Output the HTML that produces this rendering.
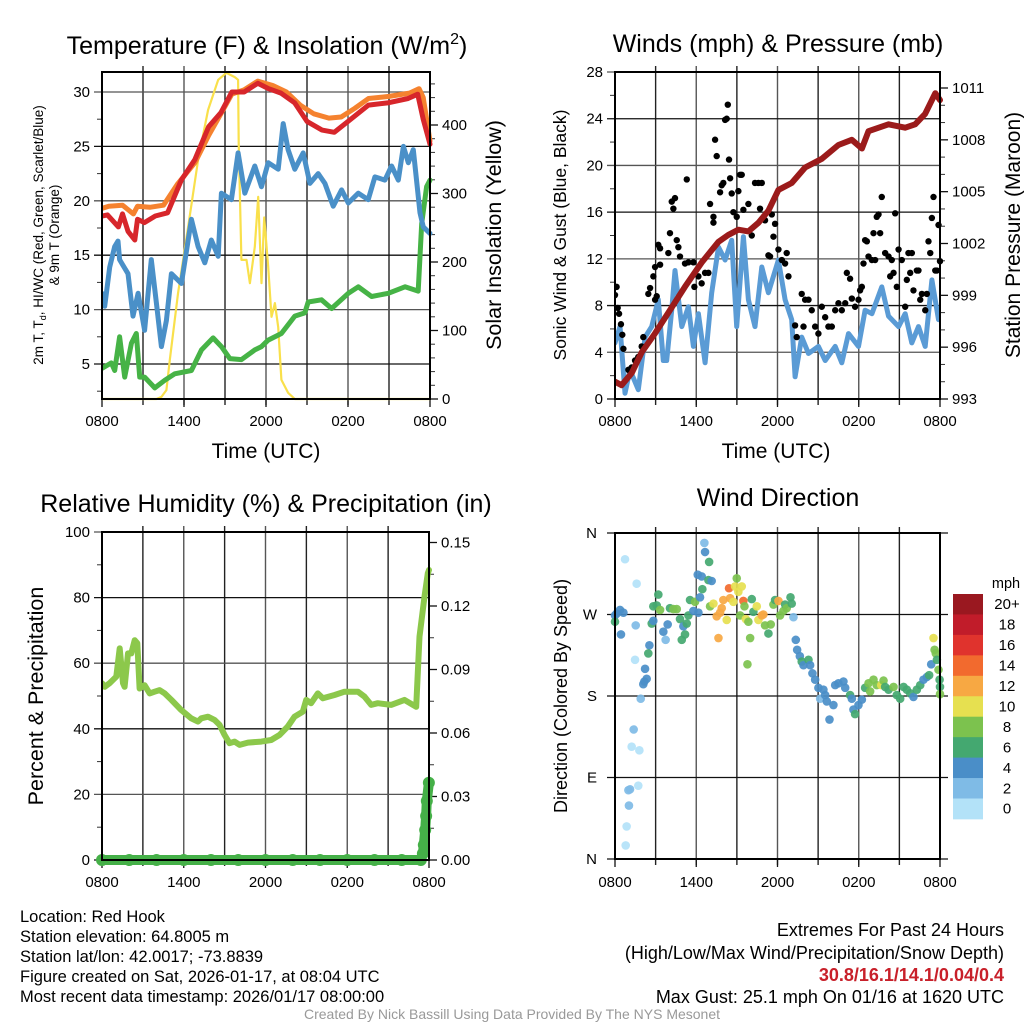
<!DOCTYPE html>
<html><head><meta charset="utf-8">
<style>
html,body{margin:0;padding:0;background:#fff;}
body{width:1024px;height:1024px;overflow:hidden;font-family:"Liberation Sans",Arial,sans-serif;}
svg text{font-family:"Liberation Sans",Arial,sans-serif;}
</style></head>
<body>
<svg id="chart" width="1024" height="1024" viewBox="0 0 1024 1024" xmlns="http://www.w3.org/2000/svg">
<rect x="0" y="0" width="1024" height="1024" fill="#fff"/>
<g id="titles" font-size="25" fill="#000" text-anchor="middle">
<text x="267" y="54">Temperature (F) &amp; Insolation (W/m<tspan dy="-10" font-size="16">2</tspan><tspan dy="10">)</tspan></text>
<text x="778" y="52">Winds (mph) &amp; Pressure (mb)</text>
<text x="266" y="512">Relative Humidity (%) &amp; Precipitation (in)</text>
<text x="778" y="506">Wind Direction</text>
</g>
<g fill="#000" text-anchor="middle">
<text x="266" y="458" font-size="21">Time (UTC)</text>
<text x="776" y="458" font-size="21">Time (UTC)</text>
<text transform="translate(43,235) rotate(-90)" font-size="13.5">2m T, T<tspan font-size="9" dy="3">d</tspan><tspan dy="-3">, HI/WC (Red, Green, Scarlet/Blue)</tspan></text>
<text transform="translate(59,235) rotate(-90)" font-size="13.5">&amp; 9m T (Orange)</text>
<text transform="translate(501,235) rotate(-90)" font-size="21.5">Solar Insolation (Yellow)</text>
<text transform="translate(566,235) rotate(-90)" font-size="17.5">Sonic Wind &amp; Gust (Blue, Black)</text>
<text transform="translate(1020,235) rotate(-90)" font-size="21">Station Pressure (Maroon)</text>
<text transform="translate(43,696) rotate(-90)" font-size="21.5">Percent &amp; Precipitation</text>
<text transform="translate(567,696) rotate(-90)" font-size="18">Direction (Colored By Speed)</text>
</g>
<g font-size="16.5" fill="#000">
<text x="20" y="922">Location: Red Hook</text>
<text x="20" y="942">Station elevation: 64.8005 m</text>
<text x="20" y="962">Station lat/lon: 42.0017; -73.8839</text>
<text x="20" y="982">Figure created on Sat, 2026-01-17, at 08:04 UTC</text>
<text x="20" y="1002">Most recent data timestamp: 2026/01/17 08:00:00</text>
</g>
<g font-size="18" fill="#000" text-anchor="end">
<text x="1004" y="936">Extremes For Past 24 Hours</text>
<text x="1004" y="959">(High/Low/Max Wind/Precipitation/Snow Depth)</text>
<text x="1004" y="981" fill="#c8202a" font-weight="bold">30.8/16.1/14.1/0.04/0.4</text>
<text x="1004" y="1003">Max Gust: 25.1 mph On 01/16 at 1620 UTC</text>
</g>
<text x="512" y="1019" font-size="14" fill="#999" text-anchor="middle">Created By Nick Bassill Using Data Provided By The NYS Mesonet</text>
</svg>
<script>
// ---------- data (hours since 0800 UTC) ----------
const xTickLabels = ["0800","1400","2000","0200","0800"];
const tempTicks = [5,10,15,20,25,30];
const solarTicks = [0,100,200,300,400];
const windTicks = [0,4,8,12,16,20,24,28];
const presTicks = [993,996,999,1002,1005,1008,1011];
const rhTicks = [0,20,40,60,80,100];
const precipTicks = ["0.00","0.03","0.06","0.09","0.12","0.15"];
const dirLabels = ["N","W","S","E","N"];
const dirTickDeg = [360,270,180,90,0];
const speedBins = ["20+","18","16","14","12","10","8","6","4","2","0"];
const speedColors = ["#9a1820","#c11c2a","#e0332d","#f26a2e","#f7a843","#e6e050","#7cc24e","#44a870","#4a8ec8","#7fbbe6","#b3e2f8"];

const temp2m = [[0,18.6],[0.4,18.7],[1.2,17.6],[1.5,18.8],[1.9,17.2],[2.4,16.4],[2.6,18.3],[3.1,18.0],[3.9,18.6],[4.8,18.9],[5.8,21.9],[6.8,23.8],[7.8,26.8],[8.7,28.1],[9.5,30.0],[10.4,30.0],[11.4,30.8],[12.2,30.3],[13.1,29.9],[14.1,29.0],[15.0,27.3],[16.1,26.5],[17.0,26.3],[18.0,27.3],[19.5,28.8],[20.9,29.0],[22.4,29.4],[23.1,29.8],[23.5,27.5],[24,25.2]];
const temp9m = [[0,19.3],[0.5,19.5],[1.5,19.6],[2.3,18.8],[2.6,19.5],[3.5,19.4],[4.5,19.6],[5.5,21.5],[6.8,23.5],[7.8,26.0],[8.7,28.0],[9.5,29.8],[10.4,30.2],[11.4,31.0],[12.5,30.6],[13.5,30.0],[14.5,28.8],[15.5,28.0],[16.6,27.6],[17.5,27.7],[18.5,28.5],[19.5,29.4],[21,29.6],[22.5,29.9],[23.2,30.3],[23.5,29.5],[24,25.5]];
const dewpoint = [[0,11.5],[0.2,10.3],[0.56,13.9],[0.93,15.8],[1.17,16.3],[1.29,14.6],[1.9,13.3],[2.27,9.4],[2.64,11.5],[3.12,8.1],[3.61,14.6],[3.98,10.6],[4.35,6.6],[4.71,9.0],[5.08,13.3],[5.81,12.4],[6.54,18.3],[7.03,15.8],[7.52,14.3],[8.0,16.4],[8.5,14.9],[8.74,20.7],[9.47,20.1],[9.96,24.4],[10.45,20.7],[11.18,23.2],[11.67,21.3],[12.16,23.5],[12.89,22.9],[13.26,27.1],[13.62,24.7],[14.11,22.9],[14.72,24.4],[15.21,21.6],[15.82,22.5],[16.31,21.6],[16.92,19.5],[17.53,21.0],[18.02,19.8],[18.75,20.7],[19.48,20.1],[19.97,22.2],[20.7,21.9],[21.19,23.2],[21.68,21.9],[22.05,25.0],[22.41,23.5],[22.78,24.7],[23.27,18.9],[23.51,17.6],[24,17.0]];
const windChill = [[0,4.6],[0.68,5.1],[0.93,4.4],[1.29,7.5],[1.66,3.8],[2.15,6.9],[2.51,7.8],[2.76,3.8],[3.12,3.8],[3.86,2.8],[4.59,3.5],[5.32,4.1],[6.54,4.4],[7.28,6.3],[8.13,7.4],[8.74,6.6],[9.35,5.5],[10.2,5.4],[11.18,6.3],[11.67,6.6],[12.16,7.2],[13.13,7.8],[14.11,9.4],[14.84,9.7],[15.09,10.7],[16.06,10.9],[16.8,10.1],[18.02,11.5],[18.75,12.1],[19.73,11.2],[20.95,11.5],[22.17,12.1],[23.14,11.7],[23.39,17.9],[23.75,21.3],[24,21.9]];
const solar = [[0,0],[3.98,0],[4.35,3],[4.71,13],[4.96,57],[5.57,155],[6.3,251],[7.03,349],[7.76,422],[8.5,466],[9.1,476],[9.72,470],[9.96,466],[10.0,374],[10.2,203],[10.57,203],[10.82,169],[11.18,222],[11.43,295],[11.67,169],[11.87,265],[12.16,193],[12.4,120],[12.65,140],[12.89,105],[13.13,28],[13.62,9],[14.11,0],[24,0]];

const sonicWind = [[0,4.8],[0.37,6.2],[0.74,0.5],[1.11,2.5],[1.72,0.8],[2.22,5.3],[2.71,6.2],[3.2,8.5],[3.57,3.3],[3.82,3.3],[4.19,7.6],[4.43,11.0],[4.93,6.2],[5.42,7.9],[5.79,4.5],[6.16,7.3],[6.65,3.1],[7.14,9.1],[7.64,13.0],[8.13,11.9],[8.62,13.6],[8.99,6.2],[9.48,13.9],[9.85,8.5],[10.34,6.2],[10.84,11.3],[11.33,9.1],[12.07,11.9],[12.56,8.5],[13.05,6.8],[13.3,1.9],[13.79,5.3],[14.29,3.9],[15.02,4.5],[15.52,3.3],[16.26,4.5],[16.75,3.1],[17.24,5.6],[17.98,4.5],[18.47,7.6],[18.97,7.3],[19.7,9.6],[20.2,7.1],[20.94,6.2],[21.43,7.3],[21.92,4.8],[22.41,6.2],[22.91,4.5],[23.4,10.2],[23.89,6.8]];
const pressure = [[0,994.0],[0.49,993.8],[1.23,994.5],[1.97,995.7],[2.96,996.8],[3.94,998.0],[5.17,999.5],[6.4,1000.9],[7.64,1002.1],[8.37,1002.5],[9.11,1002.8],[9.85,1002.7],[10.59,1003.2],[11.33,1003.9],[12.07,1005.1],[13.05,1005.5],[14.04,1006.4],[15.27,1006.9],[16.5,1007.7],[17.49,1008.0],[18.23,1007.5],[18.72,1008.5],[20.2,1008.9],[21.43,1008.7],[22.17,1008.9],[22.9,1009.5],[23.65,1010.7],[24,1010.3]];
const gusts = [[0,8.9],[0.12,9.6],[0.2,7.8],[0.3,7.3],[0.44,6.4],[0.54,5.5],[0.62,4.3],[0.99,2.5],[1.23,2.7],[1.48,3.3],[1.72,3.6],[1.97,4.5],[2.09,5.3],[2.46,9.0],[2.59,9.5],[2.96,8.5],[3.08,8.8],[3.2,13.2],[3.33,12.9],[2.83,10.5],[2.96,11.3],[3.33,11.5],[3.94,12.5],[4.06,14.2],[4.19,16.9],[4.31,16.3],[4.43,17.2],[4.56,13.6],[4.68,13.0],[4.8,12.2],[5.3,18.8],[5.17,11.6],[5.42,11.7],[5.79,11.7],[5.86,9.6],[6.16,10.5],[6.4,9.9],[6.65,10.8],[6.9,10.8],[7.02,16.7],[7.27,15.6],[7.27,15.1],[7.39,22.2],[7.51,20.8],[7.76,17.7],[7.88,18.3],[8.0,18.5],[8.13,23.9],[8.25,24.0],[8.33,25.2],[8.42,20.5],[8.5,18.9],[8.62,17.6],[8.74,16.0],[8.99,15.6],[9.11,17.8],[9.24,19.2],[9.36,19.2],[9.48,16.2],[9.85,16.7],[10.1,14.0],[10.34,18.5],[10.59,18.5],[10.71,16.3],[10.84,18.5],[11.08,15.3],[11.33,12.3],[11.45,12.2],[11.58,15.8],[11.7,13.9],[11.82,15.0],[12.07,12.8],[12.32,11.9],[12.56,11.6],[12.68,12.5],[12.81,10.5],[13.3,6.3],[13.42,5.3],[13.79,9.0],[13.92,6.2],[14.04,8.5],[14.29,8.5],[14.53,7.6],[14.78,6.2],[15.02,5.6],[15.27,7.9],[15.52,7.0],[15.76,6.2],[16.01,6.2],[16.26,7.6],[16.5,8.2],[16.75,7.6],[17.0,8.2],[17.12,10.8],[17.36,10.3],[17.49,8.6],[17.73,7.9],[17.98,8.5],[18.1,9.3],[18.23,9.6],[18.35,11.6],[18.47,13.6],[18.6,13.5],[18.72,12.2],[18.97,11.9],[19.09,14.2],[19.21,11.9],[19.33,15.6],[19.46,15.8],[19.58,14.2],[19.7,17.3],[19.95,12.5],[20.2,12.2],[20.32,10.5],[20.44,11.9],[20.57,10.8],[20.69,15.9],[20.81,9.6],[20.94,12.8],[21.18,11.9],[21.43,7.9],[21.55,10.2],[21.67,12.5],[21.8,10.8],[21.92,12.5],[22.04,9.3],[22.29,11.0],[22.41,11.0],[22.54,8.5],[22.66,9.0],[22.91,7.6],[23.03,9.0],[23.15,13.5],[23.28,12.5],[23.4,15.5],[23.52,17.3],[23.65,11.0],[23.77,11.0],[23.89,14.9],[24,11.8]];

const rh = [[0,53.9],[0.2,52.8],[0.56,53.9],[0.81,54.9],[1.05,55.9],[1.3,64.5],[1.54,53.9],[1.66,52.8],[1.91,63.0],[2.15,63.0],[2.4,67.0],[2.59,66.1],[2.76,52.3],[3.13,53.3],[3.5,50.8],[3.86,51.3],[4.23,51.8],[4.6,50.8],[5.09,48.8],[5.82,45.7],[6.55,43.2],[7.04,42.2],[7.29,43.2],[7.78,43.7],[8.26,42.7],[8.63,41.2],[9.0,38.1],[9.36,35.6],[9.73,36.1],[10.1,35.1],[10.71,35.8],[11.69,36.1],[12.42,36.6],[13.03,38.1],[13.64,40.7],[14.13,43.7],[14.74,45.2],[14.99,48.8],[15.35,47.8],[15.84,50.8],[16.21,49.3],[17.07,50.3],[17.8,51.3],[18.78,51.3],[19.27,49.8],[19.76,47.3],[20.24,47.8],[21.22,47.3],[22.2,48.8],[23.06,46.7],[23.3,68.1],[23.67,80.3],[23.91,87.4],[24,88.4]];
const precip = [[0,0],[2,0],[4,0],[6,0],[8,0],[10,0],[12,0],[14,0],[16,0],[18,0],[20,0],[22,0],[23.4,0],[23.55,0.003],[23.62,0.0071],[23.72,0.0142],[23.79,0.0208],[23.84,0.0279],[23.99,0.0365]];

const windDir = [[0,269,5],[0.12,271,5],[0.37,275,5],[0.62,272,5],[0,262,7],[0.44,248,5],[0.74,331,1],[1.6,304,1],[1.53,258,3],[1.48,220,1],[1.9,177,3],[1.38,143,3],[1.23,124,1],[1.8,120,1],[1.72,81,1],[0.99,76,3],[1.11,77,3],[1.03,59,3],[0.86,36,1],[0.79,15,1],[2.22,210,5],[2.34,199,5],[2.09,193,5],[2.17,196,5],[2.54,236,5],[2.46,227,7],[2.71,260,7],[2.83,263,5],[2.83,279,7],[3.2,292,7],[3.08,280,7],[3.33,275,9],[3.57,251,5],[3.74,242,3],[3.89,259,5],[4.06,277,7],[4.31,276,9],[4.56,276,9],[4.8,265,7],[4.93,242,7],[5.17,248,7],[5.05,257,5],[5.3,260,7],[5.42,269,7],[5.54,286,7],[5.79,274,5],[5.91,284,9],[6.16,272,5],[6.28,289,5],[6.11,314,5],[6.4,312,5],[6.6,349,3],[6.65,339,5],[6.95,328,7],[6.9,308,7],[7.14,307,5],[6.45,298,7],[7.02,279,9],[7.27,282,11],[7.51,268,13],[7.64,244,13],[7.76,272,13],[7.88,277,12],[8.0,286,13],[8.25,264,11],[8.42,299,15],[8.5,288,13],[8.74,284,11],[8.87,301,11],[8.99,310,9],[9.11,295,11],[9.36,301,11],[9.24,269,9],[9.48,285,15],[9.56,279,9],[9.66,265,11],[9.85,262,9],[9.98,244,9],[10.1,287,7],[10.22,273,7],[9.78,215,9],[10.47,279,11],[10.59,264,11],[10.84,269,12],[10.96,270,13],[11.08,258,9],[11.33,249,7],[11.5,259,9],[11.7,281,9],[11.82,286,7],[12.07,285,13],[12.19,269,9],[12.44,274,9],[12.56,281,7],[12.68,277,9],[12.96,289,7],[13.05,282,7],[13.18,267,3],[13.35,242,5],[13.45,231,5],[13.65,224,5],[13.79,218,7],[13.92,214,5],[14.29,220,7],[14.41,214,5],[14.58,205,5],[14.78,198,5],[15.02,189,5],[15.15,177,3],[15.39,187,5],[15.52,181,5],[15.64,174,5],[15.84,154,5],[16.13,170,5],[16.26,192,5],[16.5,194,5],[16.87,196,5],[17.0,189,5],[17.36,181,7],[17.49,177,5],[17.61,165,5],[17.73,160,7],[17.98,170,5],[18.23,176,5],[18.47,189,7],[18.72,194,9],[18.84,185,9],[19.09,198,9],[19.33,192,9],[19.66,192,11],[19.83,197,9],[19.95,190,7],[20.2,187,7],[20.57,190,9],[20.81,181,7],[21.06,177,7],[21.31,190,7],[21.55,187,7],[21.8,183,7],[22.04,179,5],[22.29,187,7],[22.54,192,7],[22.78,198,5],[23.03,201,5],[23.2,203,7],[23.35,215,5],[23.52,244,11],[23.6,231,9],[23.69,227,9],[23.77,220,7],[23.89,209,9],[23.97,198,7],[24,190,7],[24,182,9]];

// ---------- helpers ----------
const NS = "http://www.w3.org/2000/svg";
const svg = document.getElementById("chart");
function mk(tag, attrs, parent) {
  const e = document.createElementNS(NS, tag);
  for (const k in attrs) e.setAttribute(k, attrs[k]);
  (parent || svg).appendChild(e);
  return e;
}
function linScale(d0, d1, r0, r1) { return v => r0 + (v - d0) * (r1 - r0) / (d1 - d0); }

const P = {
  temp: {x0:102, x1:430, y0:72, y1:399},
  wind: {x0:615, x1:940, y0:72, y1:399},
  rh:   {x0:102, x1:429, y0:532, y1:860},
  dir:  {x0:615, x1:940, y0:533, y1:859}
};
const xs = {}; for (const k in P) xs[k] = linScale(0, 24, P[k].x0, P[k].x1);

const yTemp = linScale(5, 30, 364, 92);
const ySolar = linScale(0, 400, 399, 125);
const yWind = linScale(0, 28, 399, 72);
const yPres = linScale(993, 1011, 399, 88);
const yRH = linScale(0, 100, 860, 532);
const yPrecip = linScale(0, 0.15, 860, 542.5);
const yDir = linScale(0, 360, 859, 533);
const TICK_FS = 15;

function drawFrame(key, name, yTicksPos, yLabels, y2TicksPos, y2Labels, minorL, minorR) {
  const p = P[key];
  const inR = y => y >= p.y0 - 0.5 && y <= p.y1 + 0.5;
  const g = mk("g", {});
  
  
  for (let h = 3; h < 24; h += 3) {
    const gl = mk("line", {x1: xs[key](h), x2: xs[key](h), y1: p.y0 - 6, y2: p.y1 + 6, stroke: (h % 6 === 0) ? "#555" : "#222", "stroke-width": 1.4}, g);
    
    
  }
  yTicksPos.forEach((y, i) => {
    const gl = mk("line", {x1: p.x0 - 8, x2: p.x1 + (y2TicksPos ? 0 : 8), y1: y, y2: y, stroke: (i % 2) ? "#555" : "#111", "stroke-width": 1.3}, g);
    
    
    const t = mk("text", {x: p.x0 - 12, y: y + 5, "font-size": TICK_FS, "text-anchor": "end"}, g);
    t.textContent = yLabels[i];
    
    
  });
  (minorL || []).filter(inR).forEach(y => { mk("line", {x1: p.x0 - 5, x2: p.x0, y1: y, y2: y, stroke: "#333", "stroke-width": 1}, g); });
  if (y2TicksPos) {
    y2TicksPos.forEach((y, i) => {
      mk("line", {x1: p.x1, x2: p.x1 + 8, y1: y, y2: y, stroke: "#111", "stroke-width": 1.3}, g);
      const t = mk("text", {x: p.x1 + 12, y: y + 5, "font-size": TICK_FS, "text-anchor": "start"}, g);
      t.textContent = y2Labels[i];
      
      
    });
    (minorR || []).filter(inR).forEach(y => { mk("line", {x1: p.x1, x2: p.x1 + 5, y1: y, y2: y, stroke: "#333", "stroke-width": 1}, g); });
  }
  xTickLabels.forEach((lab, i) => {
    const x = xs[key](i * 6);
    mk("line", {x1: x, x2: x, y1: p.y1, y2: p.y1 + 8, stroke: "#111", "stroke-width": 1.3}, g);
    const t = mk("text", {x: x, y: p.y1 + 27, "font-size": TICK_FS, "text-anchor": "middle"}, g);
    t.textContent = lab;
    
    
  });
  return g;
}
function drawBorder(key, name) {
  const p = P[key];
  const r = mk("rect", {x: p.x0, y: p.y0, width: p.x1 - p.x0, height: p.y1 - p.y0, fill: "none", stroke: "#000", "stroke-width": 2});
  
  
}
function pathOf(pts, xf, yf) {
  return pts.map((d, i) => (i ? "L" : "M") + xf(d[0]).toFixed(1) + "," + yf(d[1]).toFixed(1)).join(" ");
}
function clipFor(key) {
  const p = P[key];
  const cp = mk("clipPath", {id: "clip-" + key});
  mk("rect", {x: p.x0, y: p.y0 - 2, width: p.x1 - p.x0 + 4, height: p.y1 - p.y0 + 4}, cp);
  return "url(#clip-" + key + ")";
}

// ---------- Panel 1 ----------
const minorT = []; for (let v = 2.5; v <= 32.5; v += 5) minorT.push(yTemp(v));
const minorS = []; for (let v = 20; v <= 480; v += 20) if (v % 100) minorS.push(ySolar(v));
drawFrame("temp", "temperature", tempTicks.map(yTemp), tempTicks, solarTicks.map(ySolar), solarTicks, minorT, minorS);
const cT = clipFor("temp");
const gT = mk("g", {"clip-path": cT, fill: "none", "stroke-linejoin": "round", "stroke-linecap": "round"});


const sol = mk("path", {d: pathOf(solar, xs.temp, ySolar), stroke: "#f9e04b", "stroke-width": 2.2}, gT);


const wc = mk("path", {d: pathOf(windChill, xs.temp, yTemp), stroke: "#46b346", "stroke-width": 5}, gT);


const td = mk("path", {d: pathOf(dewpoint, xs.temp, yTemp), stroke: "#4a90c8", "stroke-width": 5}, gT);


const t9 = mk("path", {d: pathOf(temp9m, xs.temp, yTemp), stroke: "#f5822f", "stroke-width": 5}, gT);


const t2 = mk("path", {d: pathOf(temp2m, xs.temp, yTemp), stroke: "#d7262b", "stroke-width": 5}, gT);


drawBorder("temp", "temperature");

// ---------- Panel 2 ----------
const minorW = []; for (let v = 2; v <= 26; v += 4) minorW.push(yWind(v));
const minorP = []; for (let v = 994; v <= 1012; v += 1) if ((v - 993) % 3) minorP.push(yPres(v));
drawFrame("wind", "wind", windTicks.map(yWind), windTicks, presTicks.map(yPres), presTicks, minorW, minorP);
const cW = clipFor("wind");
const gW = mk("g", {"clip-path": cW, "stroke-linejoin": "round", "stroke-linecap": "round"});


const sw = mk("path", {d: pathOf(sonicWind, xs.wind, yWind), stroke: "#5a9bd5", "stroke-width": 5, fill: "none"}, gW);


gusts.forEach(d => {
  const c = mk("circle", {cx: xs.wind(d[0]), cy: yWind(d[1]), r: 3.2, fill: "#000"}, gW);
  
  
});
const pr = mk("path", {d: pathOf(pressure, xs.wind, yPres), stroke: "#9b1b1b", "stroke-width": 6, fill: "none"}, gW);


drawBorder("wind", "wind");

// ---------- Panel 3 ----------
const minorRH = []; for (let v = 10; v <= 90; v += 20) minorRH.push(yRH(v));
const minorPr = []; for (let v = 0.015; v <= 0.15; v += 0.03) minorPr.push(yPrecip(v));
drawFrame("rh", "humidity", rhTicks.map(yRH), rhTicks, precipTicks.map(v => yPrecip(+v)), precipTicks, minorRH, minorPr);
const cR = clipFor("rh");
const gR = mk("g", {"stroke-linejoin": "round", "stroke-linecap": "round"});


const rl = mk("path", {d: pathOf(rh, xs.rh, yRH), stroke: "#8cc84b", "stroke-width": 6, fill: "none", "clip-path": cR}, gR);


const pl = mk("path", {d: pathOf(precip, xs.rh, yPrecip), stroke: "#45b048", "stroke-width": 10, fill: "none"}, gR);


precip.forEach(d => {
  const c = mk("circle", {cx: xs.rh(d[0]), cy: yPrecip(d[1]), r: 6, fill: "#45b048"}, gR);
  
  
});
drawBorder("rh", "humidity");

// ---------- Panel 4 ----------
(function () {
  const p = P.dir;
  const g = mk("g", {});
  
  
  for (let h = 3; h < 24; h += 3) {
    mk("line", {x1: xs.dir(h), x2: xs.dir(h), y1: p.y0 - 6, y2: p.y1 + 6, stroke: (h % 6 === 0) ? "#555" : "#222", "stroke-width": 1.4}, g);
  }
  dirTickDeg.forEach((d, i) => {
    const y = yDir(d);
    mk("line", {x1: p.x0 - 8, x2: p.x1 + 8, y1: y, y2: y, stroke: "#111", "stroke-width": 1.3}, g);
    const t = mk("text", {x: p.x0 - 18, y: y + 5, "font-size": TICK_FS, "text-anchor": "end"}, g);
    t.textContent = dirLabels[i];
    
    
  });
  xTickLabels.forEach((lab, i) => {
    const x = xs.dir(i * 6);
    mk("line", {x1: x, x2: x, y1: p.y1, y2: p.y1 + 8, stroke: "#111", "stroke-width": 1.3}, g);
    const t = mk("text", {x: x, y: p.y1 + 28, "font-size": TICK_FS, "text-anchor": "middle"}, g);
    t.textContent = lab;
    
    
  });
})();
function speedColor(s) {
  let idx = Math.floor(s / 2); if (idx > 10) idx = 10;
  return speedColors[10 - idx];
}
const gD = mk("g", {});


windDir.forEach(d => {
  const c = mk("circle", {cx: xs.dir(d[0]), cy: yDir(d[1]), r: 4.3, fill: speedColor(d[2]), "fill-opacity": 0.92}, gD);
  
  
});
drawBorder("dir", "direction");

// colorbar
const gC = mk("g", {});


const cbTop = 594, cbH = 20.45;
const unit = mk("text", {x: 1006, y: 588, "font-size": 14.5, "text-anchor": "middle"}, gC);
unit.textContent = "mph";


speedBins.forEach((lab, i) => {
  const r = mk("rect", {x: 953, y: cbTop + i * cbH, width: 30, height: cbH + 0.4, fill: speedColors[i]}, gC);
  
  
  const t = mk("text", {x: 1007, y: cbTop + i * cbH + cbH / 2 + 5, "font-size": 15, "text-anchor": "middle"}, gC);
  t.textContent = lab;
  
  
});
</script>
</body></html>
